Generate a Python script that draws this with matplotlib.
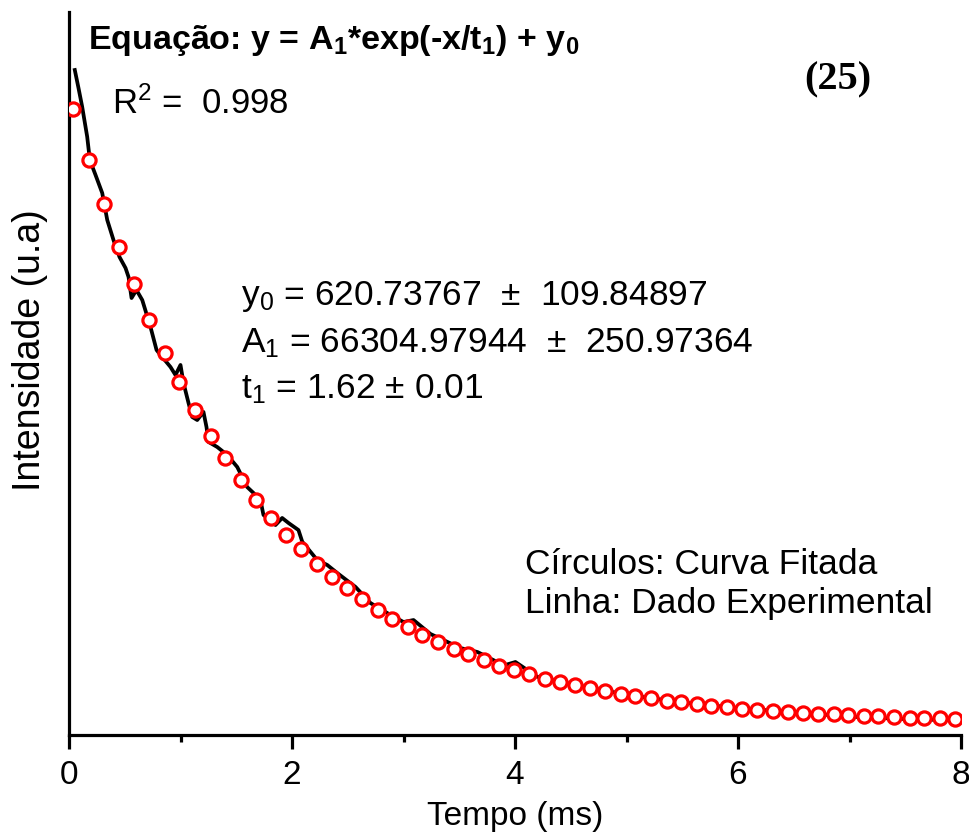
import numpy as np
import matplotlib
matplotlib.use("Agg")
from matplotlib import pyplot as plt
from matplotlib.ticker import MultipleLocator

# Curva fitada (circulos vermelhos), intensidade em milhares
fit_t = [0.04, 0.18, 0.31, 0.45, 0.58, 0.72, 0.86, 0.99, 1.13, 1.27,
         1.40, 1.54, 1.68, 1.81, 1.95, 2.08, 2.22, 2.36, 2.49, 2.63,
         2.77, 2.90, 3.04, 3.17, 3.31, 3.45, 3.58, 3.72, 3.86, 3.99,
         4.13, 4.27, 4.40, 4.54, 4.67, 4.81, 4.95, 5.08, 5.22, 5.36,
         5.49, 5.63, 5.76, 5.90, 6.04, 6.17, 6.31, 6.45, 6.58, 6.72,
         6.86, 6.99, 7.13, 7.26, 7.40, 7.54, 7.67, 7.81, 7.95]
fit_i = [65.31, 59.95, 55.38, 50.85, 46.97, 43.13, 39.62, 36.61, 33.63, 30.90,
         28.56, 26.25, 24.13, 22.31, 20.52, 18.99, 17.46, 16.07, 14.88, 13.70,
         12.62, 11.69, 10.77, 9.99, 9.22, 8.50, 7.90, 7.29, 6.74, 6.27,
         5.80, 5.37, 5.01, 4.64, 4.33, 4.03, 3.74, 3.50, 3.27, 3.05,
         2.86, 2.67, 2.52, 2.36, 2.21, 2.09, 1.97, 1.86, 1.76, 1.67,
         1.58, 1.51, 1.43, 1.37, 1.31, 1.25, 1.20, 1.16, 1.11]

# Dado experimental (linha preta)
exp_t = [0.052, 0.085, 0.118, 0.163, 0.187, 0.238, 0.298, 0.343, 0.399, 0.453,
         0.507, 0.534, 0.561, 0.605, 0.657, 0.731, 0.785, 0.821, 0.910, 0.955,
         1.000, 1.027, 1.072, 1.105, 1.150, 1.206, 1.233, 1.251, 1.329, 1.419,
         1.509, 1.598, 1.655, 1.717, 1.744, 1.852, 1.912, 1.969, 2.058, 2.092,
         2.226, 2.316, 2.405, 2.570, 2.704, 2.854, 3.000, 3.090, 3.242, 3.511,
         3.664, 3.900, 4.004, 4.200, 4.500, 4.800, 5.100, 5.500, 6.000, 6.500,
         7.000, 7.500, 8.000]
exp_i = [69.47, 67.58, 65.61, 62.45, 59.99, 58.41, 56.51, 53.67, 51.56, 49.77,
         48.61, 47.67, 45.45, 46.30, 45.24, 42.40, 39.98, 39.45, 38.19, 37.34,
         38.40, 36.50, 34.39, 32.92, 32.60, 33.45, 31.87, 30.29, 29.76, 28.92,
         27.65, 25.54, 24.91, 24.18, 22.60, 21.54, 22.28, 21.75, 21.01, 19.78,
         17.85, 17.33, 16.49, 15.01, 13.32, 12.27, 11.32, 11.53, 10.06, 8.58,
         8.16, 6.75, 7.11, 5.55, 4.80, 4.10, 3.50, 2.85, 2.25, 1.82,
         1.35, 1.10, 0.95]

x_ticks = [0, 2, 4, 6, 8]

plt.rcParams['font.family'] = ['Liberation Sans', 'DejaVu Sans']
plt.rcParams['mathtext.fontset'] = 'custom'
plt.rcParams['mathtext.rm'] = 'Liberation Sans'
plt.rcParams['mathtext.it'] = 'Liberation Sans'
plt.rcParams['mathtext.bf'] = 'Liberation Sans:bold'

fig = plt.figure(figsize=(9.69, 8.32), dpi=100)
ax = fig.add_axes([69 / 969, 97 / 832, 892 / 969, 723 / 832])

ax.plot(exp_t, exp_i, color="black", linewidth=2.7, zorder=2)
ax.plot(fit_t, fit_i, linestyle="none", marker="o", markersize=9.5,
        markerfacecolor="white", markeredgecolor="red", markeredgewidth=2.3,
        zorder=3)

ax.set_xlim(0, 8)
ax.set_ylim(-0.58, 75.58)

for side in ["top", "right"]:
    ax.spines[side].set_visible(False)
for side in ["left", "bottom"]:
    ax.spines[side].set_linewidth(2.3)

ax.set_xticks(x_ticks)
ax.xaxis.set_minor_locator(MultipleLocator(1))
ax.tick_params(axis="x", which="major", direction="out", length=10, width=2.3,
               labelsize=24, pad=8)
ax.tick_params(axis="x", which="minor", direction="out", length=5, width=2.3)
ax.set_yticks([])

ax.set_xlabel("Tempo (ms)", fontsize=24, labelpad=7)
ax.set_ylabel("Intensidade (u.a)", fontsize=27)
ax.yaxis.set_label_coords(-0.024, 0.532)


def px(x, y):
    # posicao em pixels da figura (origem no topo) para fracao da figura
    return x / 969, 1 - y / 832


fig.text(*px(88, 40), r"Equação: y = A$_\mathbf{1}$*exp(-x/t$_\mathbf{1}$) + y$_\mathbf{0}$",
         fontsize=24.5, fontweight="bold", va="center", ha="left")
fig.text(*px(112, 104), r"R$^2$ =  0.998", fontsize=25, va="center", ha="left")
fig.text(*px(838, 80), "(25)", fontsize=29, fontweight="bold",
         family="Liberation Serif", va="center", ha="center")

fig.text(*px(241, 296), r"y$_0$ = 620.73767  $\pm$  109.84897", fontsize=25.5,
         va="center", ha="left")
fig.text(*px(241, 343), r"A$_1$ = 66304.97944  $\pm$  250.97364", fontsize=25.5,
         va="center", ha="left")
fig.text(*px(241, 389), r"t$_1$ = 1.62 $\pm$ 0.01", fontsize=25.5,
         va="center", ha="left")

fig.text(*px(525, 564), "Círculos: Curva Fitada", fontsize=25.5, va="center", ha="left")
fig.text(*px(525, 604), "Linha: Dado Experimental", fontsize=25.5, va="center", ha="left")

fig.savefig("out.png", dpi=100)
